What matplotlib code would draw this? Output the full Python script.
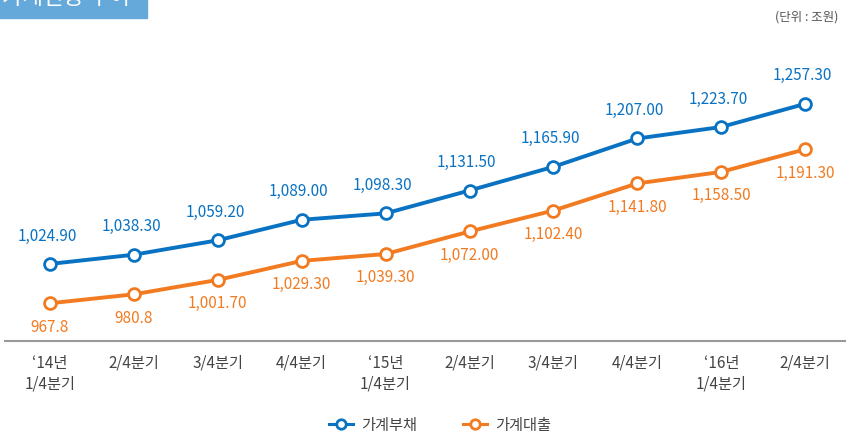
import matplotlib
matplotlib.use("Agg")
import matplotlib.pyplot as plt
from matplotlib.patches import Rectangle

plt.rcParams['font.family'] = ['Noto Sans CJK KR', 'DejaVu Sans']

# ---------------------------------------------------------
# Data (조원)
# ---------------------------------------------------------
quarters = ["\u201814년\n1/4분기", "2/4분기", "3/4분기", "4/4분기",
            "\u201815년\n1/4분기", "2/4분기", "3/4분기", "4/4분기",
            "\u201816년\n1/4분기", "2/4분기"]
debt = [1024.9, 1038.3, 1059.2, 1089.0, 1098.3, 1131.5, 1165.9, 1207.0, 1223.7, 1257.3]
loans = [967.8, 980.8, 1001.7, 1029.3, 1039.3, 1072.0, 1102.4, 1141.8, 1158.5, 1191.3]
debt_labels = ["1,024.90", "1,038.30", "1,059.20", "1,089.00", "1,098.30",
               "1,131.50", "1,165.90", "1,207.00", "1,223.70", "1,257.30"]
loan_labels = ["967.8", "980.8", "1,001.70", "1,029.30", "1,039.30",
               "1,072.00", "1,102.40", "1,141.80", "1,158.50", "1,191.30"]

BLUE = "#0A72C2"
ORANGE = "#F27B21"
W, H = 847, 436

fig = plt.figure(figsize=(W / 100, H / 100), dpi=100)
ax = fig.add_axes([5 / W, (H - 341) / H, 840 / W, 301 / H])

x = range(len(quarters))
ax.plot(x, debt, color=BLUE, lw=2.8, marker="o", ms=8.5, mfc="white",
        mec=BLUE, mew=2.0, label="가계부채", zorder=3)
ax.plot(x, loans, color=ORANGE, lw=2.8, marker="o", ms=8.5, mfc="white",
        mec=ORANGE, mew=2.0, label="가계대출", zorder=3)

for i, (d, l) in enumerate(zip(debt, loans)):
    ax.annotate(debt_labels[i], (i, d), xytext=(-2, 14), textcoords="offset points",
                ha="center", va="bottom", color=BLUE, fontsize=11)
    ax.annotate(loan_labels[i], (i, l), xytext=(0, -11), textcoords="offset points",
                ha="center", va="top", color=ORANGE, fontsize=11)

ax.set_xlim(-0.536, 9.475)
ax.set_ylim(913, 1350)
ax.set_yticks([])
ax.set_xticks(list(x))
ax.set_xticklabels(quarters, fontsize=11, color="#444444", linespacing=1.3)
ax.tick_params(axis="x", length=0, pad=10)
for side in ["top", "left", "right"]:
    ax.spines[side].set_visible(False)
ax.spines["bottom"].set_color("#999999")
ax.spines["bottom"].set_linewidth(1.5)

leg = fig.legend(loc="center", bbox_to_anchor=(440 / W, 1 - 425 / H), ncol=2,
                 frameon=False, fontsize=11, handlelength=1.6, columnspacing=3.0,
                 handletextpad=0.5, markerscale=0.8)
for t in leg.get_texts():
    t.set_color("#444444")
for h in leg.legend_handles:
    h.set_linewidth(2.2)

# title box cut off at the top
fig.patches.append(Rectangle((0, 1 - 18 / H), 147 / W, 18 / H,
                             transform=fig.transFigure, color="#65A9DB", zorder=0))
fig.text(2 / W, 1 - 9 / H, "가계신용 추이", color="white", fontsize=16,
         ha="left", va="bottom")

fig.text(838 / W, 1 - 17 / H, "(단위 : 조원)", color="#555555", fontsize=9,
         ha="right", va="center")

fig.savefig("out.png", dpi=100)
